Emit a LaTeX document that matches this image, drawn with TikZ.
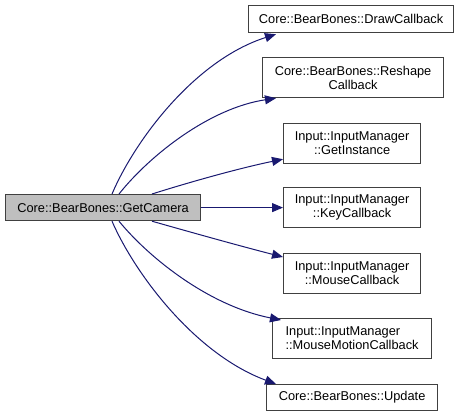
\documentclass[tikz,border=0pt]{standalone}
\usepackage{fontspec}
\setmainfont{Liberation Sans}
\usetikzlibrary{arrows.meta}
\definecolor{edgec}{HTML}{191970}
\definecolor{boxc}{HTML}{404040}
\definecolor{mainfill}{HTML}{BFBFBF}
\tikzset{
  fn/.style={draw=boxc, line width=1.2pt, fill=white, anchor=north west, inner sep=0pt,
    align=center, font=\fontsize{12.8}{14}\selectfont},
  edge/.style={draw=edgec, line width=1pt, -{Triangle[length=11pt,width=9pt]}},
}
\begin{document}
\begin{tikzpicture}[x=1pt,y=-1pt]
\useasboundingbox (0,0) rectangle (461,416);
\node[fn, fill=mainfill, minimum width=195pt, minimum height=26pt] (main) at (5,194) {Core::BearBones::GetCamera};
\node[fn, minimum width=205pt, minimum height=27pt] (draw) at (248,5) {Core::BearBones::DrawCallback};
\node[fn, minimum width=181pt, minimum height=40pt] (reshape) at (262,57) {Core::BearBones::Reshape\\Callback};
\node[fn, minimum width=137pt, minimum height=40pt] (gi) at (283,123) {Input::InputManager\\::GetInstance};
\node[fn, minimum width=137pt, minimum height=40pt] (key) at (283,187) {Input::InputManager\\::KeyCallback};
\node[fn, minimum width=137pt, minimum height=40pt] (mouse) at (283,253) {Input::InputManager\\::MouseCallback};
\node[fn, align=left, minimum width=159pt, minimum height=40pt] (mm) at (272,318) {Input::InputManager\\::MouseMotionCallback};
\node[fn, minimum width=171pt, minimum height=26pt] (upd) at (266,384) {Core::BearBones::Update};

\draw[edge] ([xshift=107pt]main.north west) .. controls (135,140) and (195,60) .. ([xshift=28pt,yshift=-1pt]draw.south west);
\draw[edge] ([xshift=114pt]main.north west) .. controls (150,155) and (210,108) .. ([xshift=14pt]reshape.south west);
\draw[edge] ([xshift=147pt]main.north west) .. controls (190,182) and (240,168) .. ([yshift=5pt]gi.south west);
\draw[edge] (main.east) -- (main.east -| key.west);
\draw[edge] ([xshift=147pt]main.south west) .. controls (190,232) and (240,246) .. ([yshift=-4pt]mouse.north west);
\draw[edge] ([xshift=114pt]main.south west) .. controls (150,259) and (210,306) .. ([xshift=9pt,yshift=-2pt]mm.north west);
\draw[edge] ([xshift=107pt]main.south west) .. controls (135,274) and (195,354) .. ([xshift=10pt]upd.north west);
\end{tikzpicture}
\end{document}
